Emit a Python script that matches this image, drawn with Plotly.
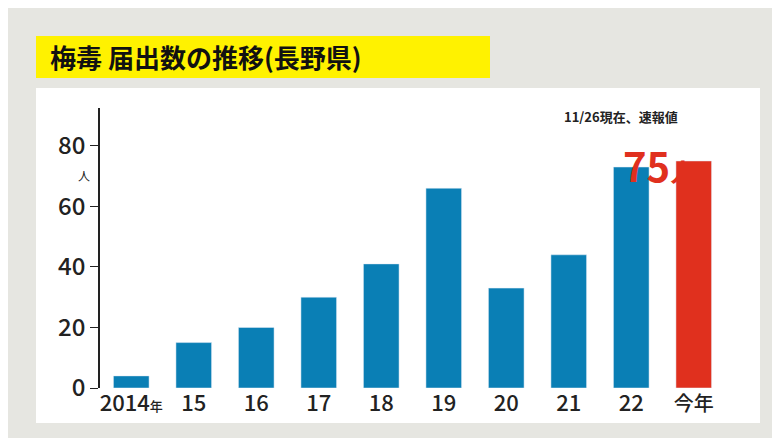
import plotly.graph_objects as go

categories = ["2014", "15", "16", "17", "18", "19", "20", "21", "22", "今年"]
tick_labels = ["2014<span style='font-size:13px'>年</span>", "15", "16", "17", "18", "19", "20", "21", "22", "<span style='font-size:20px'>今年</span>"]
values = [4, 15, 20, 30, 41, 66, 33, 44, 73, 75]
colors = ["#0a7fb5"] * 9 + ["#e0301e"]
y_ticks = [0, 20, 40, 60, 80]

F = "Noto Sans CJK JP"
L, R, T, B = 92, 63, 100, 58
W, H = 780 - L - R, 438 - T - B
px = lambda x: (x - L) / W
py = lambda y: (438 - B - y) / H

fig = go.Figure(go.Bar(x=categories, y=values, marker_color=colors, width=0.57))
fig.update_layout(
    width=780, height=438, margin=dict(l=L, r=R, t=T, b=B, autoexpand=False),
    paper_bgcolor="#e6e6e1", plot_bgcolor="rgba(0,0,0,0)", showlegend=False,
    font=dict(family=F, color="#222"),
    xaxis=dict(tickvals=categories, ticktext=tick_labels, showline=False, showgrid=False,
               automargin=False, ticks="", tickfont=dict(size=22, color="#222", weight=500),
               range=[-0.5, 9.5]),
    yaxis=dict(range=[0, 92.5], tickvals=y_ticks, showgrid=False, zeroline=False, automargin=False,
               showline=True, linecolor="#222", linewidth=1.5, ticks="outside",
               ticklen=8, tickcolor="#222", tickfont=dict(size=24, color="#222", weight=500)),
    shapes=[
        dict(type="rect", xref="paper", yref="paper", x0=px(28), x1=px(752), y0=py(415), y1=py(80),
             fillcolor="white", line_width=0, layer="below"),
        dict(type="rect", xref="paper", yref="paper", x0=px(28), x1=px(482), y0=py(70), y1=py(28),
             fillcolor="#fff200", line_width=0, layer="below"),
    ],
    annotations=[
        dict(xref="paper", yref="paper", x=px(40), y=py(49), xanchor="left", yanchor="middle",
             text="<b>梅毒 届出数の推移(長野県)</b>", showarrow=False, font=dict(size=26, color="#111")),
        dict(xref="paper", yref="paper", x=px(68), y=py(157), text="人", showarrow=False,
             font=dict(size=12, color="#222")),
        dict(xref="paper", yref="paper", x=px(672), y=py(97), text="<b>11/26現在、速報値</b>",
             showarrow=False, font=dict(size=13, color="#222")),
        dict(xref="paper", yref="paper", x=px(690), y=py(126),
             text="<b>75<span style='font-size:26px'>人</span></b>", showarrow=False,
             font=dict(size=40, color="#e0301e")),
    ],
)
fig.write_html("out.html")
